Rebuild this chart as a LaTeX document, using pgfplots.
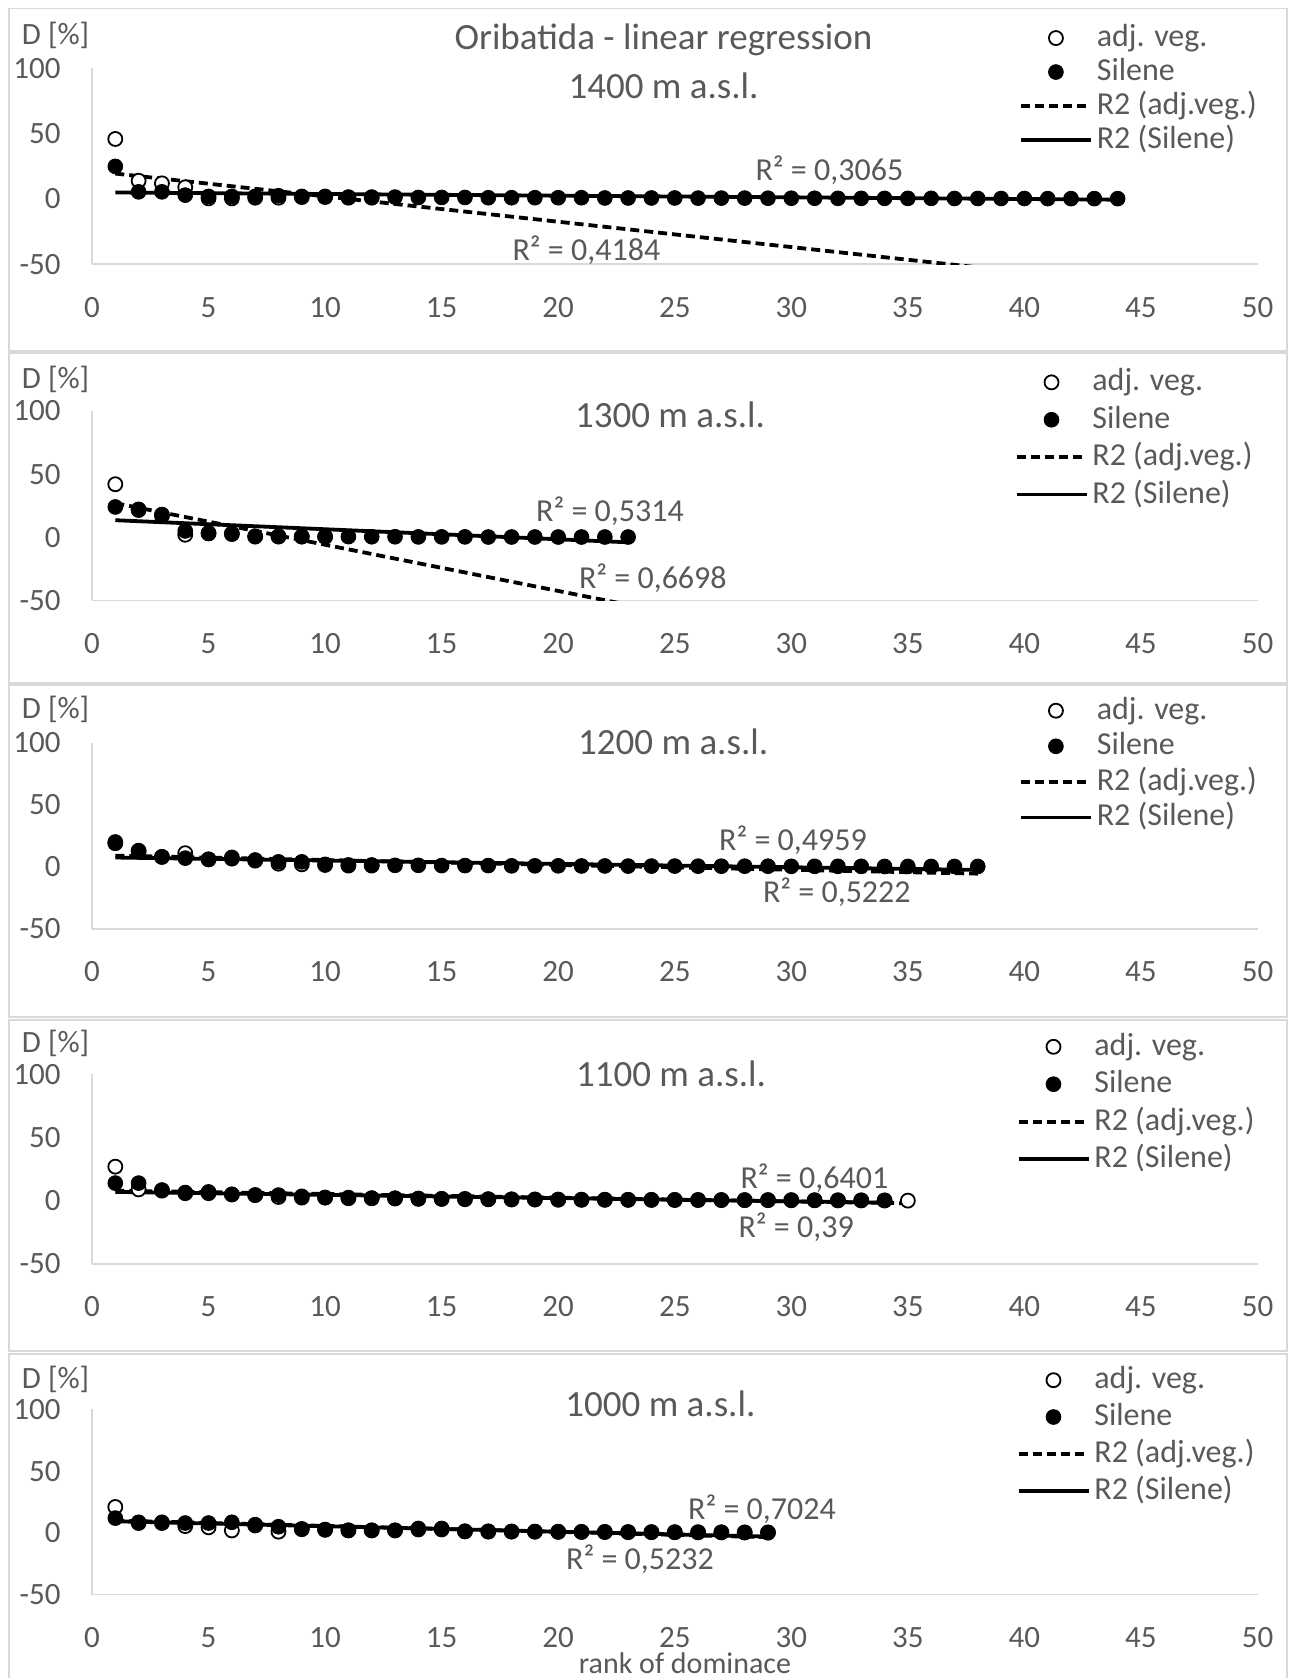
\documentclass[border=0pt]{standalone}
\usepackage{pgfplots}
\pgfplotsset{compat=1.18}
\usepackage{fontspec}
\setmainfont{Carlito}
\definecolor{txt}{HTML}{595959}
\definecolor{axl}{HTML}{D9D9D9}
\pgfplotsset{
  panel/.style={
    scale only axis, width=582.75pt,
    xmin=0, xmax=50, ymin=-50, ymax=100,
    axis lines=left, axis line style={draw=axl, line width=0.8pt, -},
    xtick={0,5,...,50}, xticklabels={0,5,10,15,20,25,30,35,40,45,50},
    ytick={-50,0,50,100}, yticklabels={-50,0,50,100},
    major tick length=0pt,
    tick label style={font=\fontsize{15.5}{18}\selectfont, text=txt},
    xticklabel style={anchor=base, inner sep=0pt, yshift=-26.5pt},
    yticklabel style={anchor=east, inner sep=0pt, xshift=-15.5pt},
    legend image code/.code={\draw[mark repeat=2,mark phase=2,##1] plot coordinates {(0pt,0pt)(17.5pt,0pt)(35pt,0pt)};},
    legend style={draw=none, fill=none, inner sep=0pt, outer sep=0pt, anchor=west,
      font=\fontsize{16}{18}\selectfont, text=txt, column sep=2pt, row sep=0pt,
      cells={anchor=west}},
    legend cell align=left,
  },
  lrow/.style 2 args={legend style={nodes={inner sep=0pt, text height=#1, text depth=#2}}},
  adj/.style={only marks, mark=*, mark size=3.5pt, mark options={fill=white, draw=black, line width=0.9pt}},
  sil/.style={only marks, mark=*, mark size=3.7pt, mark options={fill=black, draw=black}},
  tadj/.style={no marks, black, line width=1.9pt, dash pattern=on 4.5pt off 2.5pt},
  tsil/.style={no marks, black, line width=1.9pt},
}
\begin{document}
\begin{tikzpicture}
\useasboundingbox (0,0) rectangle (647.5pt,839pt);
\begin{scope}[draw=axl, line width=0.8pt]
\draw (4.5pt,663.5pt) rectangle (643.5pt,834.7pt);
\draw (4.5pt,497.5pt) rectangle (643.5pt,662.5pt);
\draw (4.5pt,330.5pt) rectangle (643.5pt,496.5pt);
\draw (4.5pt,163.5pt) rectangle (643.5pt,329pt);
\draw (4.5pt,-2pt) rectangle (643.5pt,162pt);
\end{scope}

% ---------- 1400 ----------
\begin{axis}[panel, at={(46pt,706.85pt)}, anchor=south west, height=97.9pt,
  legend style={at={(0.7954,0.895)}}, lrow={12.75pt}{4.25pt}]
\addplot[adj] coordinates {(1,46)(2,14)(3,12)(4,9)(5,0.5)(6,0.5)(7,1)(8,1)(9,1.5)(10,1.5)(11,1)(12,1)};
\addplot[sil] coordinates {(1,25)(2,5.5)(3,5.5)(4,3)(5,2)(6,2)(7,2)(8,2.5)(9,2)(10,2)
(11,1.5)(12,1.5)(13,1.5)(14,1.2)(15,1.2)(16,1.2)(17,1)(18,1)(19,1)(20,1)
(21,1)(22,0.8)(23,0.8)(24,0.8)(25,0.8)(26,0.7)(27,0.7)(28,0.7)(29,0.6)(30,0.6)
(31,0.6)(32,0.5)(33,0.5)(34,0.5)(35,0.5)(36,0.5)(37,0.4)(38,0.4)(39,0.4)(40,0.4)
(41,0.3)(42,0.3)(43,0.3)(44,0.3)};
\addplot[tadj] coordinates {(1,19.5)(44,-64)};
\addplot[tsil] coordinates {(1,5)(44,-0.5)};
\legend{adj. veg., Silene, R2 (adj.veg.), R2 (Silene)}
\end{axis}

% ---------- 1300 ----------
\begin{axis}[panel, at={(46pt,538.8pt)}, anchor=south west, height=94.7pt,
  legend style={at={(0.7916,0.855)}}, lrow={13.6pt}{5.1pt}]
\addplot[adj] coordinates {(1,42)(2,22)(3,17)(4,2)(5,3)(6,2.5)(7,0.5)(8,0.5)(9,0.5)(10,0.3)};
\addplot[sil] coordinates {(1,24)(2,21.5)(3,18)(4,5)(5,3.5)(6,3)(7,0.8)(8,0.8)(9,0.6)(10,0.5)
(11,0.5)(12,0.4)(13,0.4)(14,0.3)(15,0.3)(16,0.3)(17,0.2)(18,0.2)(19,0.2)(20,0.2)
(21,0.2)(22,0.2)(23,0.2)};
\addplot[tadj] coordinates {(1,27)(23,-53.5)};
\addplot[tsil] coordinates {(1,13.5)(23,-4)};
\legend{adj. veg., Silene, R2 (adj.veg.), R2 (Silene)}
\end{axis}

% ---------- 1200 ----------
\begin{axis}[panel, at={(46pt,374.55pt)}, anchor=south west, height=93.1pt,
  legend style={at={(0.7954,0.885)}}, lrow={13.1pt}{4.7pt}]
\addplot[adj] coordinates {(1,19)(2,13)(3,8)(4,11)(5,6)(6,7.5)(7,5)(8,2.5)(9,2)(10,1.5)(11,1)(12,1)};
\addplot[sil] coordinates {(1,20)(2,12)(3,8)(4,7)(5,6)(6,6.5)(7,5.5)(8,4)(9,4)(10,2)
(11,1.5)(12,1.5)(13,1.2)(14,1.2)(15,1)(16,1)(17,1)(18,0.8)(19,0.8)(20,0.8)
(21,0.7)(22,0.7)(23,0.6)(24,0.6)(25,0.6)(26,0.5)(27,0.5)(28,0.5)(29,0.5)(30,0.4)
(31,0.4)(32,0.4)(33,0.4)(34,0.3)(35,0.3)(36,0.3)(37,0.3)(38,0.3)};
\addplot[tadj] coordinates {(1,9)(38,-5.5)};
\addplot[tsil] coordinates {(1,7.5)(38,-2.5)};
\legend{adj. veg., Silene, R2 (adj.veg.), R2 (Silene)}
\end{axis}

% ---------- 1100 ----------
\begin{axis}[panel, at={(46pt,207.05pt)}, anchor=south west, height=94.7pt,
  legend style={at={(0.7933,0.85)}}, lrow={13.6pt}{5.1pt}]
\addplot[adj] coordinates {(1,27)(2,9)(3,8)(4,6)(5,6)(6,5)(7,4.5)(8,3)(9,2.5)(10,2.5)
(11,2)(12,2)(13,1.8)(14,1.5)(15,1.5)(16,1.2)(17,1.2)(18,1)(19,1)(20,0.8)
(21,0.8)(22,0.8)(23,0.7)(24,0.7)(25,0.6)(26,0.6)(27,0.5)(28,0.5)(29,0.5)(30,0.4)
(31,0.4)(32,0.3)(33,0.3)(34,0.2)(35,0.1)};
\addplot[sil] coordinates {(1,14)(2,14)(3,8.5)(4,6.5)(5,7)(6,5)(7,4.5)(8,4.5)(9,3.5)(10,2.5)
(11,2.5)(12,2)(13,2)(14,1.8)(15,1.5)(16,1.5)(17,1.2)(18,1.2)(19,1)(20,1)
(21,0.8)(22,0.8)(23,0.8)(24,0.7)(25,0.7)(26,0.6)(27,0.6)(28,0.5)(29,0.5)(30,0.5)
(31,0.4)(32,0.4)(33,0.3)(34,0.3)};
\addplot[tadj] coordinates {(1,8)(35,-2)};
\addplot[tsil] coordinates {(1,7)(34,-1.5)};
\legend{adj. veg., Silene, R2 (adj.veg.), R2 (Silene)}
\end{axis}

% ---------- 1000 ----------
\begin{axis}[panel, at={(46pt,41.7pt)}, anchor=south west, height=92.55pt,
  legend style={at={(0.7933,0.86)}}, lrow={13.4pt}{5pt}]
\addplot[adj] coordinates {(1,21)(2,8)(3,8)(4,5.5)(5,4.5)(6,2)(7,6)(8,1)(9,3)(10,2.5)
(11,2)(12,2)(13,2)(14,3.5)(15,3.5)(16,1.2)(17,1)(18,1)(19,1)(20,0.8)
(21,0.8)(22,0.7)(23,0.6)(24,0.6)(25,0.5)(26,0.5)(27,0.4)(28,0.3)(29,0.2)};
\addplot[sil] coordinates {(1,12)(2,8.6)(3,8.6)(4,8)(5,8)(6,8.6)(7,6.7)(8,5)(9,3.2)(10,2.7)
(11,2.1)(12,2.1)(13,2.1)(14,2.7)(15,2.7)(16,1.3)(17,1.3)(18,1.2)(19,1)(20,1)
(21,0.8)(22,0.8)(23,0.7)(24,0.6)(25,0.6)(26,0.5)(27,0.5)(28,0.4)(29,0.4)};
\addplot[tadj] coordinates {(1,10)(29,-3.5)};
\addplot[tsil] coordinates {(1,9.4)(29,-3)};
\legend{adj. veg., Silene, R2 (adj.veg.), R2 (Silene)}
\end{axis}

% ---------- texts ----------
\begin{scope}[every node/.style={text=txt, inner sep=0pt}]
\node[font=\fontsize{18.5}{22}\selectfont] at (331.75pt,819.2pt) {Oribatida - linear regression};
\node[font=\fontsize{18.5}{22}\selectfont] at (331.75pt,796.2pt) {1400 m a.s.l.};
\node[font=\fontsize{18.5}{22}\selectfont] at (335pt,631.4pt) {1300 m a.s.l.};
\node[font=\fontsize{18.5}{22}\selectfont] at (336.6pt,468.2pt) {1200 m a.s.l.};
\node[font=\fontsize{18.5}{22}\selectfont] at (335.5pt,302.3pt) {1100 m a.s.l.};
\node[font=\fontsize{18.5}{22}\selectfont] at (330.2pt,136.95pt) {1000 m a.s.l.};
\foreach \yy in {821.35,649.05,484.25,317.3,149.25}
  \node[font=\fontsize{15.5}{18}\selectfont] at (27.8pt,\yy pt) {D [\%]};
\node[font=\fontsize{15}{18}\selectfont, anchor=base] at (342.5pt,2.2pt) {rank of dominace};
\begin{scope}[font=\fontsize{16}{19}\selectfont]
\node at (414.7pt,753.9pt) {R² = 0,3065};
\node at (293.2pt,713.8pt) {R² = 0,4184};
\node at (305pt,583.2pt) {R² = 0,5314};
\node at (326.4pt,550.05pt) {R² = 0,6698};
\node at (396.5pt,418.95pt) {R² = 0,4959};
\node at (418.4pt,392.75pt) {R² = 0,5222};
\node at (407.2pt,249.85pt) {R² = 0,6401};
\node at (398.1pt,225.25pt) {R² = 0,39};
\node at (381pt,84.5pt) {R² = 0,7024};
\node at (320pt,59.35pt) {R² = 0,5232};
\end{scope}
\end{scope}
\end{tikzpicture}
\end{document}
